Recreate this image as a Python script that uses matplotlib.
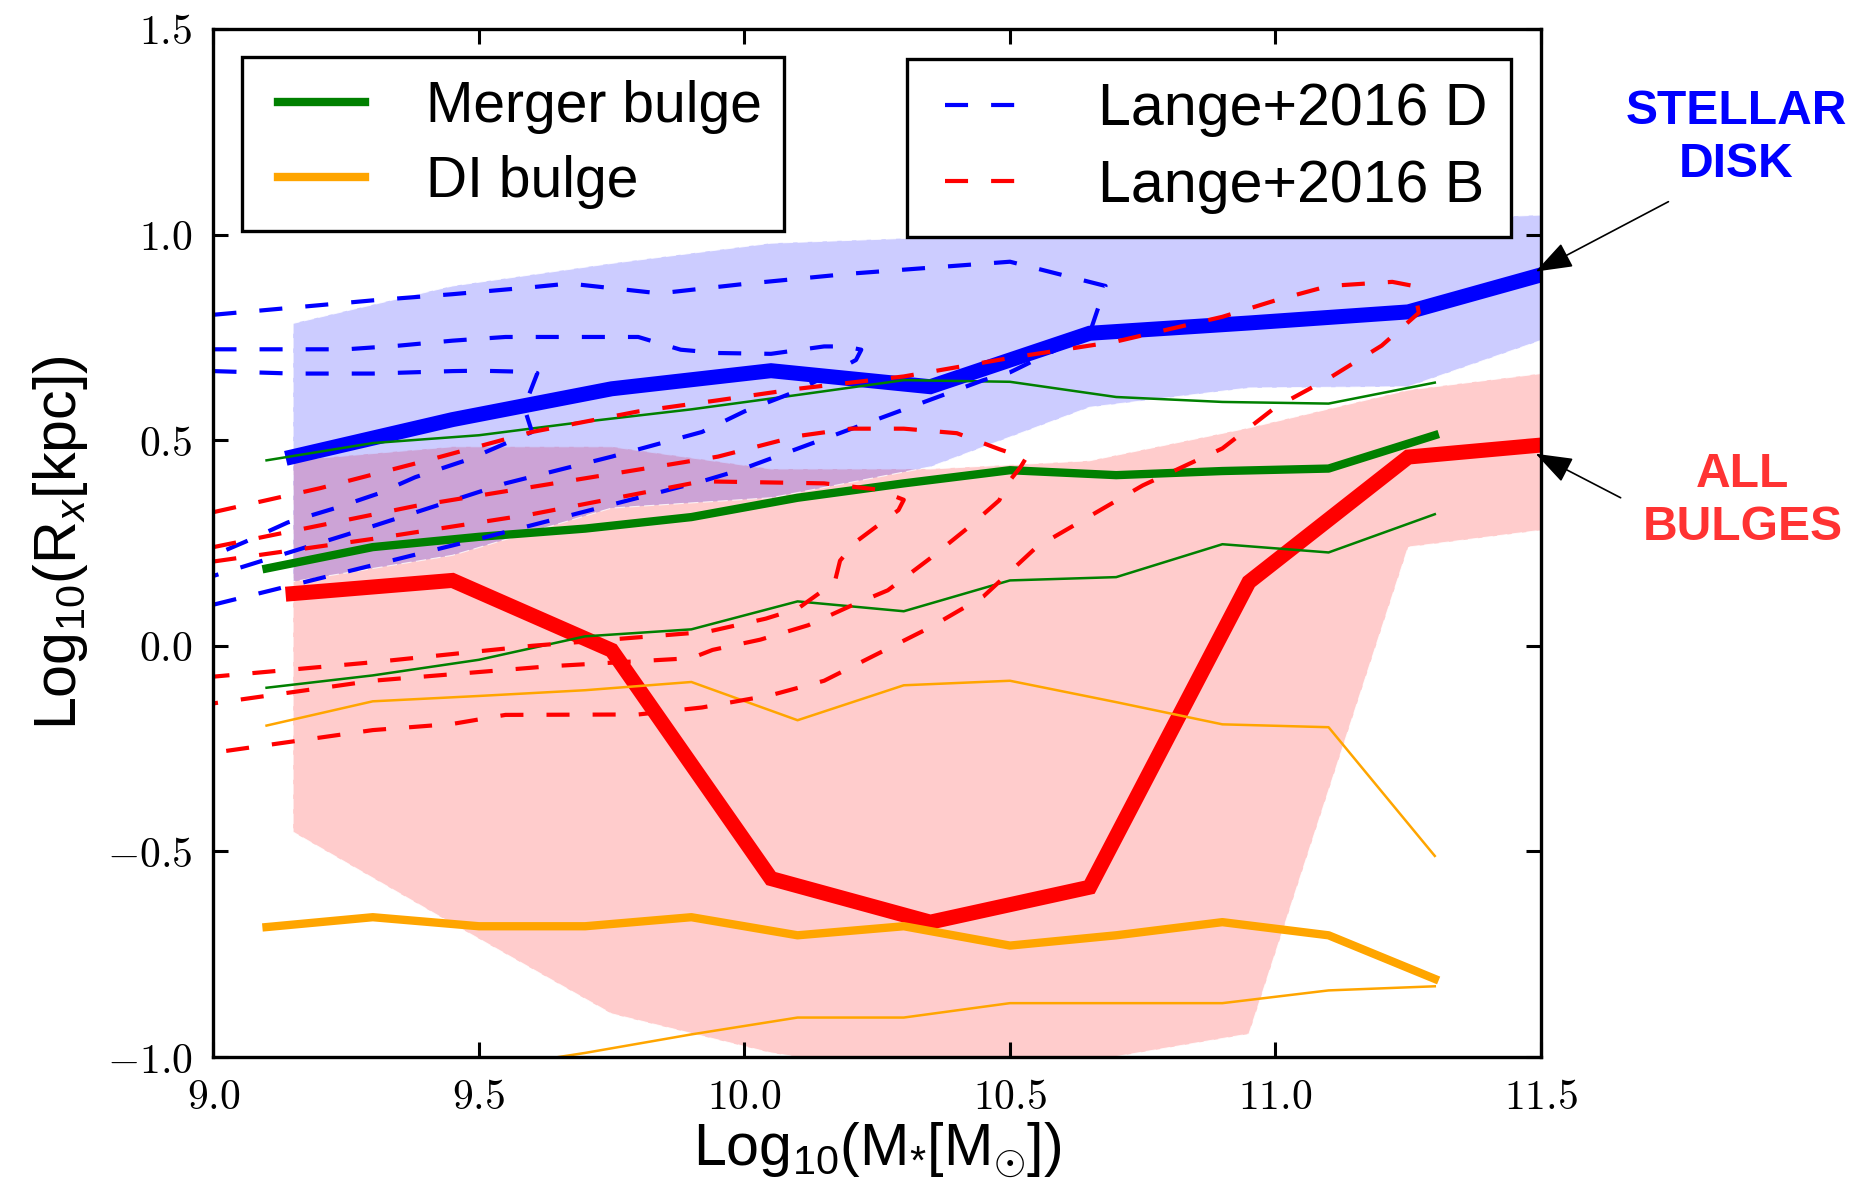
import matplotlib
matplotlib.use('Agg')
import matplotlib.pyplot as plt
from matplotlib.lines import Line2D
from matplotlib.legend_handler import HandlerLine2D

plt.rcParams['font.family'] = ['Liberation Sans', 'DejaVu Sans']
plt.rcParams['mathtext.fontset'] = 'custom'
plt.rcParams['mathtext.rm'] = 'Liberation Sans'
plt.rcParams['mathtext.it'] = 'Liberation Sans:italic'
plt.rcParams['mathtext.bf'] = 'Liberation Sans:bold'
plt.rcParams['lines.scale_dashes'] = False

# --- model: stellar disk and all bulges (0.3 dex bins) ---
mass_a = [9.15, 9.45, 9.75, 10.05, 10.35, 10.65, 10.95, 11.25, 11.55]
disk_med = [0.46, 0.55, 0.625, 0.669, 0.630, 0.760, 0.785, 0.812, 0.92]
disk_lo = [0.156, 0.22, 0.335, 0.36, 0.435, 0.58, 0.627, 0.630, 0.765]
disk_hi = [0.784, 0.875, 0.93, 0.979, 0.993, 1.0, 1.02, 1.035, 1.05]
bulge_med = [0.127, 0.159, -0.011, -0.566, -0.672, -0.587, 0.155, 0.459, 0.494]
bulge_lo = [-0.453, -0.676, -0.895, -0.99, -1.05, -1.01, -0.944, 0.24, 0.289]
bulge_hi = [0.451, 0.484, 0.484, 0.43, 0.43, 0.45, 0.53, 0.622, 0.67]

# --- model: merger and disk-instability bulges (0.2 dex bins) ---
mass_b = [9.1, 9.3, 9.5, 9.7, 9.9, 10.1, 10.3, 10.5, 10.7, 10.9, 11.1, 11.3]
merger_med = [0.188, 0.240, 0.265, 0.285, 0.313, 0.36, 0.395, 0.427, 0.415, 0.425, 0.431, 0.512]
merger_lo = [-0.102, -0.072, -0.034, 0.023, 0.040, 0.108, 0.084, 0.159, 0.167, 0.247, 0.227, 0.320]
merger_hi = [0.451, 0.493, 0.512, 0.545, 0.575, 0.61, 0.646, 0.642, 0.605, 0.593, 0.589, 0.640]
di_med = [-0.684, -0.660, -0.682, -0.682, -0.660, -0.704, -0.682, -0.729, -0.704, -0.672, -0.704, -0.810]
di_lo = [-1.13, -1.08, -1.03, -0.99, -0.945, -0.904, -0.904, -0.869, -0.869, -0.869, -0.838, -0.828]
di_hi = [-0.194, -0.135, -0.122, -0.108, -0.088, -0.181, -0.096, -0.085, -0.137, -0.191, -0.198, -0.511]

# --- Lange+2016 disks: upper edge then lower edge back ---
d1_x = [9.0, 9.3, 9.45, 9.6, 9.67, 9.84, 10.0, 10.2, 10.5, 10.68, 10.65, 10.5, 10.45, 9.99, 9.92, 9.5, 9.0]
d1_y = [0.805, 0.84, 0.855, 0.872, 0.881, 0.857, 0.88, 0.905, 0.934, 0.875, 0.76, 0.665, 0.646, 0.427, 0.40, 0.26, 0.10]
d2_x = [9.0, 9.25, 9.35, 9.45, 9.55, 9.8, 9.88, 9.95, 10.05, 10.15, 10.19, 10.22,
        10.21, 10.1, 10.0, 9.92, 9.75, 9.55, 9.25, 9.0]
d2_y = [0.721, 0.721, 0.73, 0.742, 0.751, 0.751, 0.72, 0.712, 0.71, 0.728, 0.728, 0.72,
        0.695, 0.62, 0.57, 0.52, 0.46, 0.395, 0.27, 0.17]
d3_x = [9.0, 9.15, 9.3, 9.45, 9.5, 9.6, 9.61, 9.585, 9.6, 9.48, 9.38, 9.31, 9.23, 9.14, 9.06, 9.0]
d3_y = [0.668, 0.662, 0.662, 0.668, 0.669, 0.666, 0.663, 0.58, 0.52, 0.453, 0.41, 0.37, 0.335, 0.30, 0.253, 0.22]

# --- Lange+2016 bulges ---
b1_x = [9.0, 9.2, 9.4, 9.6, 9.8, 9.95, 10.1, 10.3, 10.5, 10.7, 10.9, 11.0, 11.1, 11.22, 11.26,
        11.27, 11.2, 11.1, 11.0, 10.9, 10.75, 10.67, 10.55, 10.45, 10.35, 10.25, 10.15, 10.05,
        9.92, 9.8, 9.55, 9.45, 9.3, 9.0]
b1_y = [0.325, 0.383, 0.45, 0.52, 0.57, 0.597, 0.625, 0.655, 0.70, 0.74, 0.80, 0.84, 0.875, 0.885, 0.875,
        0.81, 0.73, 0.65, 0.58, 0.48, 0.39, 0.33, 0.24, 0.12, 0.045, -0.02, -0.085, -0.12,
        -0.15, -0.167, -0.168, -0.19, -0.205, -0.26]
b2_x = [9.0, 9.38, 9.95, 10.1, 10.2, 10.3, 10.4, 10.48, 10.53,
        10.52, 10.49, 10.48, 10.42, 10.35, 10.27, 10.2, 10.12, 10.03, 9.94, 9.9, 9.63, 9.3, 9.0]
b2_y = [0.24, 0.34, 0.46, 0.51, 0.528, 0.528, 0.517, 0.478, 0.456,
        0.435, 0.386, 0.354, 0.286, 0.213, 0.135, 0.097, 0.05, 0.015, -0.01, -0.03, -0.05, -0.085, -0.14]
b3_x = [9.0, 9.3, 9.6, 9.92, 10.15, 10.25, 10.3,
        10.29, 10.21, 10.18, 10.17, 10.1, 10.04, 9.93, 9.6, 9.3, 9.0]
b3_y = [0.205, 0.26, 0.32, 0.40, 0.395, 0.38, 0.355,
        0.33, 0.253, 0.207, 0.155, 0.09, 0.066, 0.034, 0.0, -0.04, -0.075]

xticks = [9.0, 9.5, 10.0, 10.5, 11.0, 11.5]
yticks = [-1.0, -0.5, 0.0, 0.5, 1.0, 1.5]

fig = plt.figure(figsize=(9.345, 5.935), dpi=200)
ax = fig.add_axes([0.1142, 0.1095, 0.7103, 0.8661])

# shaded 16-84 percentile ranges
ax.fill_between(mass_a, bulge_lo, bulge_hi, facecolor=(1, 0, 0, 0.2),
                edgecolor=(1, 1, 1, 0.8), lw=0.4, linestyle='--')
ax.fill_between(mass_a, disk_lo, disk_hi, facecolor=(0, 0, 1, 0.2),
                edgecolor=(1, 1, 1, 0.8), lw=0.4, linestyle='--')

ax.plot(mass_a, disk_med, color='blue', lw=5.4, solid_joinstyle='miter')
ax.plot(mass_a, bulge_med, color='red', lw=5.4, solid_joinstyle='miter')

ax.plot(mass_b, merger_med, color='green', lw=3.0)
ax.plot(mass_b, merger_lo, color='green', lw=0.9)
ax.plot(mass_b, merger_hi, color='green', lw=0.9)
ax.plot(mass_b, di_med, color='orange', lw=3.0)
ax.plot(mass_b, di_lo, color='orange', lw=0.9)
ax.plot(mass_b, di_hi, color='orange', lw=0.9)

dash = (0, (8.3, 8.3))
for xs, ys in [(d1_x, d1_y), (d2_x, d2_y), (d3_x, d3_y)]:
    ax.plot(xs, ys, color='blue', lw=1.5, linestyle=dash)
for xs, ys in [(b1_x, b1_y), (b2_x, b2_y), (b3_x, b3_y)]:
    ax.plot(xs, ys, color='red', lw=1.5, linestyle=dash)

ax.set_xlim(9.0, 11.5)
ax.set_ylim(-1.0, 1.5)
ax.set_xticks(xticks)
ax.set_yticks(yticks)
ax.set_xticklabels(['$%.1f$' % v for v in xticks], math_fontfamily='cm')
ax.set_yticklabels(['$%.1f$' % v for v in yticks], math_fontfamily='cm')
ax.tick_params(direction='in', length=5.4, width=1.1, top=True, right=True,
               pad=7.5, labelsize=15)
for s in ax.spines.values():
    s.set_linewidth(1.2)

ax.set_xlabel(r'Log$_{10}$(M$_{*}$[M$_{\odot}$])', fontsize=21.3, labelpad=1)
ax.set_ylabel(r'Log$_{10}$(R$_x$[kpc])', fontsize=21.3, labelpad=6)

pad_handler = {Line2D: HandlerLine2D(xpad=0.24)}
leg_kw = dict(fancybox=False, edgecolor='black', framealpha=1,
              handlelength=1.77, handletextpad=1.06, borderpad=0.4,
              labelspacing=0.36, borderaxespad=0.5, handler_map=pad_handler)
h_model = [Line2D([], [], color='green', lw=3.0), Line2D([], [], color='orange', lw=3.0)]
leg1 = ax.legend(h_model, ['Merger bulge', 'DI bulge'], loc='upper left',
                 fontsize=20.5, **leg_kw)
leg1.get_frame().set_linewidth(1.2)
ax.add_artist(leg1)
h_obs = [Line2D([], [], color='blue', lw=1.5, linestyle=dash),
         Line2D([], [], color='red', lw=1.5, linestyle=dash)]
leg2 = ax.legend(h_obs, ['Lange+2016 D', 'Lange+2016 B'], loc='upper right',
                 fontsize=21.3, **leg_kw)
leg2.get_frame().set_linewidth(1.2)

# side labels with arrows
arw = dict(arrowstyle='-|>,head_length=0.5,head_width=0.18', color='black',
           lw=0.6, mutation_scale=23, shrinkA=0, shrinkB=0)
ax.annotate('', xy=(11.49, 0.91), xytext=(11.74, 1.08), arrowprops=arw,
            annotation_clip=False)
ax.annotate('', xy=(11.49, 0.467), xytext=(11.65, 0.36), arrowprops=arw,
            annotation_clip=False)
ax.text(11.867, 1.235, 'STELLAR\nDISK', color='blue', fontsize=17.3, fontweight='bold',
        ha='center', va='center', linespacing=1.25, clip_on=False)
ax.text(11.88, 0.352, 'ALL\nBULGES', color='#ff3333', fontsize=17.3, fontweight='bold',
        ha='center', va='center', linespacing=1.25, clip_on=False)

fig.savefig('out.png', dpi=200)
